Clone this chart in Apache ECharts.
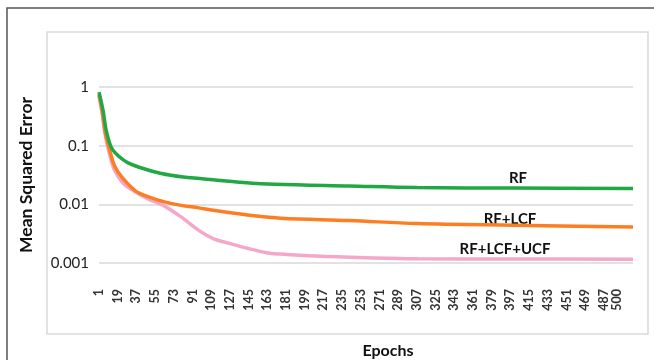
<!DOCTYPE html>
<html>
<head>
<meta charset="utf-8">
<script src="https://cdn.jsdelivr.net/npm/echarts@6/dist/echarts.min.js"></script>
<style>
html,body{margin:0;padding:0;background:#fff;}
#chart{width:654px;height:360px;}
</style>
</head>
<body>
<div id="chart"></div>
<script>
// ---- data ----
const xTickValues = [1,19,37,55,73,91,109,127,145,163,181,199,217,235,253,271,289,307,325,343,361,379,397,415,433,451,469,487,500];
const yTickValues = [0.001, 0.01, 0.1, 1];

const seriesNames = ['RF', 'RF+LCF', 'RF+LCF+UCF'];

const rfEpochs = [1, 5, 8, 13, 20, 29, 45, 61, 82, 98, 111, 140, 170, 242, 307, 400, 515];
const rfValues = [0.82, 0.39, 0.18, 0.092, 0.066, 0.051, 0.040, 0.0335, 0.0292, 0.0275, 0.0262, 0.0236, 0.0220, 0.0205, 0.0193, 0.0190, 0.0187];

const lcfEpochs = [1, 4, 7, 12, 16, 23, 36, 48, 64, 80, 97, 111, 144, 176, 242, 307, 400, 515];
const lcfValues = [0.74, 0.39, 0.17, 0.075, 0.045, 0.029, 0.0170, 0.0135, 0.0110, 0.0096, 0.0087, 0.0079, 0.0066, 0.0058, 0.0053, 0.0047, 0.0044, 0.0041];

const ucfEpochs = [1, 4, 7, 12, 16, 24, 32, 48, 62, 80, 96, 111, 129, 144, 162, 176, 210, 258, 307, 400, 515];
const ucfValues = [0.70, 0.36, 0.15, 0.062, 0.038, 0.023, 0.0180, 0.0124, 0.0098, 0.0061, 0.0037, 0.0026, 0.0021, 0.00178, 0.00150, 0.00142, 0.00131, 0.00123, 0.00118, 0.00117, 0.00116];

const pair = (xs, ys) => xs.map((x, i) => [x, ys[i]]);

const FONT = 'Lato, "Open Sans", sans-serif';
const chart = echarts.init(document.getElementById('chart'), null, {renderer: 'canvas'});

chart.setOption({
  backgroundColor: '#ffffff',
  animation: false,
  grid: {left: 99, right: 21, top: 87, bottom: 93, containLabel: false},
  xAxis: {
    type: 'value',
    min: 1,
    max: 515,
    name: 'Epochs',
    nameLocation: 'middle',
    nameGap: 80,
    nameTextStyle: {fontFamily: FONT, fontSize: 16, fontWeight: 'bold', color: '#111', padding: [0, 0, 0, 44]},
    axisLine: {show: false},
    axisTick: {show: false},
    splitLine: {show: false},
    axisLabel: {
      customValues: xTickValues,
      rotate: 90,
      margin: 26,
      fontFamily: FONT,
      fontSize: 12.5,
      fontWeight: 'bold',
      color: '#333'
    }
  },
  yAxis: {
    type: 'log',
    logBase: 10,
    min: 0.001,
    max: 1,
    name: 'Mean Squared Error',
    nameLocation: 'middle',
    nameRotate: 90,
    nameGap: 64,
    nameTextStyle: {fontFamily: FONT, fontSize: 17.5, fontWeight: 'bold', color: '#111'},
    axisLine: {show: false},
    axisTick: {show: false},
    splitLine: {show: true, lineStyle: {color: '#d9d9d9', width: 1.5}},
    axisLabel: {
      customValues: yTickValues,
      margin: 10,
      fontFamily: FONT,
      fontSize: 15,
      color: '#222',
      formatter: v => String(v)
    }
  },
  series: [
    {
      name: seriesNames[2], type: 'line', smooth: 0.35, showSymbol: false, z: 2,
      lineStyle: {color: '#f5a7c9', width: 3.5}, itemStyle: {color: '#f5a7c9'},
      data: pair(ucfEpochs, ucfValues)
    },
    {
      name: seriesNames[1], type: 'line', smooth: 0.35, showSymbol: false, z: 3,
      lineStyle: {color: '#fd7e22', width: 3.5}, itemStyle: {color: '#fd7e22'},
      data: pair(lcfEpochs, lcfValues)
    },
    {
      name: seriesNames[0], type: 'line', smooth: 0.35, showSymbol: false, z: 4,
      lineStyle: {color: '#22a745', width: 3.5}, itemStyle: {color: '#22a745'},
      data: pair(rfEpochs, rfValues)
    }
  ],
  graphic: [
    {type: 'rect', silent: true, z: -10, shape: {x: 7, y: 8, width: 700, height: 400},
     style: {fill: 'none', stroke: '#555', lineWidth: 1.5}},
    {type: 'rect', silent: true, z: -9, shape: {x: 47, y: 32, width: 601, height: 302},
     style: {fill: '#fff', stroke: '#d9d9d9', lineWidth: 1.5}},
    {type: 'text', x: 518, y: 178, style: {text: seriesNames[0], font: 'bold 15px ' + FONT, fill: '#111', textAlign: 'center', textVerticalAlign: 'middle'}},
    {type: 'text', x: 510, y: 219, style: {text: seriesNames[1], font: 'bold 15px ' + FONT, fill: '#111', textAlign: 'center', textVerticalAlign: 'middle'}},
    {type: 'text', x: 505, y: 249, style: {text: seriesNames[2], font: 'bold 15px ' + FONT, fill: '#111', textAlign: 'center', textVerticalAlign: 'middle'}}
  ]
});
</script>
</body>
</html>
